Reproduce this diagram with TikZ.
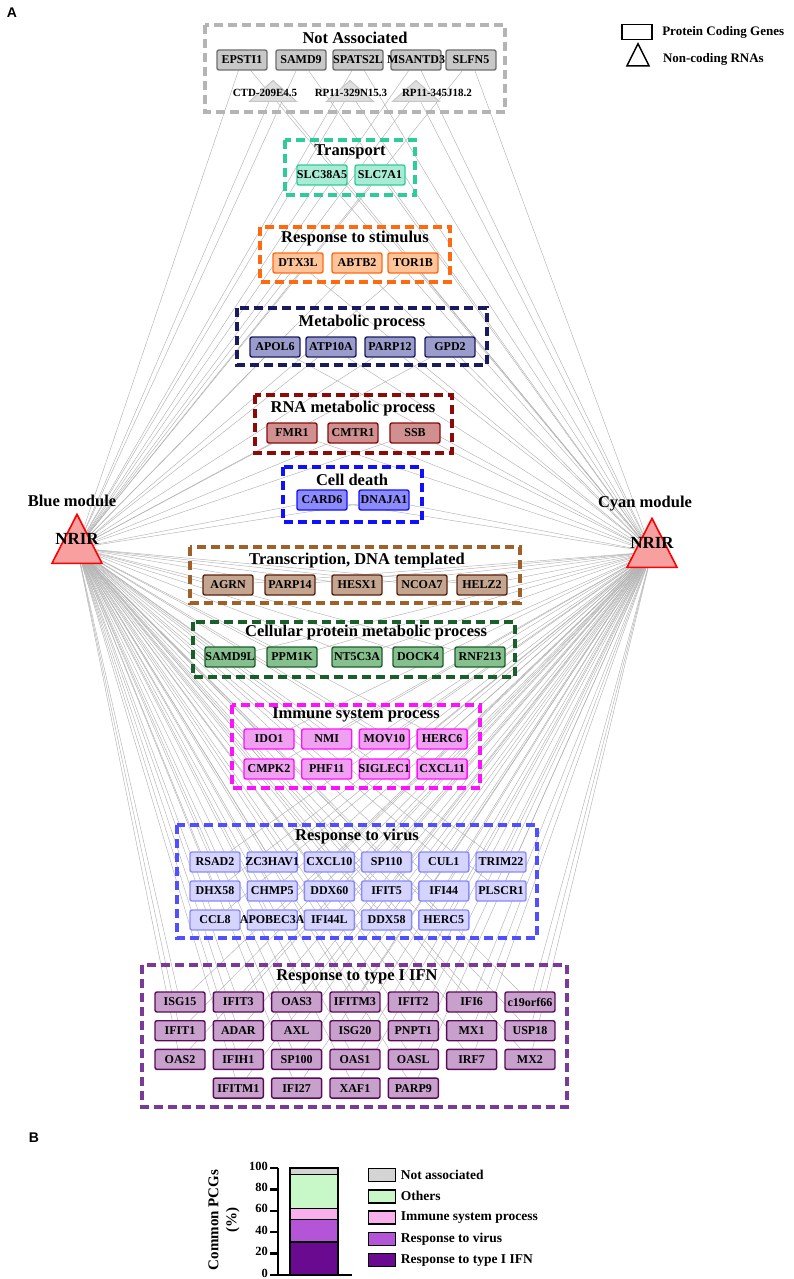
\documentclass[tikz,border=0pt]{standalone}
\usepackage{fontspec}
\setmainfont{Liberation Serif}
\newfontfamily\panelfont{Liberation Sans}
\usetikzlibrary{shapes.geometric, backgrounds}

\definecolor{naframe}{HTML}{B4B4B4}
\definecolor{nagene}{HTML}{6E6E6E}
\definecolor{nafill}{HTML}{C8C8C8}
\definecolor{trframe}{HTML}{2ECC9A}
\definecolor{trfill}{HTML}{A8ECD6}
\definecolor{stframe}{HTML}{FF6A10}
\definecolor{stfill}{HTML}{FFC49A}
\definecolor{meframe}{HTML}{1A1A5E}
\definecolor{mefill}{HTML}{9A9CCC}
\definecolor{rnframe}{HTML}{8B0A0A}
\definecolor{rnfill}{HTML}{D09090}
\definecolor{cdframe}{HTML}{1010FF}
\definecolor{cdfill}{HTML}{8C8CFF}
\definecolor{txframe}{HTML}{A0602A}
\definecolor{txgene}{HTML}{5A2010}
\definecolor{txfill}{HTML}{C4A690}
\definecolor{cpframe}{HTML}{1A5E2A}
\definecolor{cpfill}{HTML}{86C08E}
\definecolor{imframe}{HTML}{FF10FF}
\definecolor{imfill}{HTML}{F0A0F0}
\definecolor{viframe}{HTML}{5050FF}
\definecolor{vigene}{HTML}{8A8AFF}
\definecolor{vifill}{HTML}{D4D4FF}
\definecolor{ifframe}{HTML}{7A3A9A}
\definecolor{ifgene}{HTML}{5A0A5A}
\definecolor{iffill}{HTML}{C8A0CC}
\definecolor{nrirfill}{HTML}{F8A0A0}
\definecolor{nabar}{HTML}{D4D4D4}
\definecolor{othbar}{HTML}{C8F8C8}
\definecolor{immbar}{HTML}{F8B0EC}
\definecolor{virbar}{HTML}{B455D8}
\definecolor{ifnbar}{HTML}{6A0A90}

\tikzset{
  gene/.style 2 args={draw=#1, fill=#2, line width=1.4pt, rounded corners=2pt,
    minimum width=50pt, minimum height=20pt, inner sep=0pt,
    font=\fontsize{12}{12}\selectfont\bfseries},
  frame/.style={draw=#1, line width=3.5pt, dash pattern=on 9pt off 5pt},
  grouptitle/.style={font=\fontsize{16.5}{18}\selectfont\bfseries},
  link/.style={draw=gray!60, line width=0.45pt},
  nrir/.style={isosceles triangle, isosceles triangle stretches, shape border rotate=90,
    minimum width=50pt, minimum height=49pt, inner sep=0pt,
    draw=red, fill=nrirfill, line width=1.6pt},
  ncrna/.style={isosceles triangle, isosceles triangle stretches, shape border rotate=90,
    minimum width=47pt, minimum height=21pt, inner sep=0pt,
    draw=gray!45, fill=gray!25, line width=1pt},
  legtext/.style={font=\fontsize{13}{13}\selectfont\bfseries, label distance=6pt},
  barseg/.style={draw=black, line width=1.5pt},
  axis/.style={draw=black, line width=2.5pt},
}

\begin{document}
\begin{tikzpicture}[x=1pt, y=-1pt, font=\bfseries]
  \useasboundingbox (0,0) rectangle (793,1279);

  % panel A
  \node[font=\panelfont\fontsize{14}{14}\selectfont\bfseries] (labA) at (12,13) {A};
  \node[draw, line width=1.5pt, minimum width=30pt, minimum height=15pt, inner sep=0pt,
    label={[legtext]right:Protein Coding Genes}] (legpcg) at (637,32) {};
  \node[isosceles triangle, isosceles triangle stretches, shape border rotate=90,
    minimum width=22pt, minimum height=22pt, inner sep=0pt, draw, line width=1.5pt,
    label={[legtext, label distance=13pt]right:Non-coding RNAs}] (legnc) at (638,59) {};

  \node[nrir, label={[grouptitle, xshift=-5pt, label distance=2pt]above:Blue module},
    label={[font=\fontsize{17}{17}\selectfont\bfseries, yshift=9pt]center:NRIR}] (nrirL) at (77,548) {};
  \node[nrir, label={[grouptitle, xshift=-7pt, label distance=2pt]above:Cyan module},
    label={[font=\fontsize{17}{17}\selectfont\bfseries, yshift=9pt]center:NRIR}] (nrirR) at (652,552) {};

  % group frames
  \draw[frame=naframe] (205,25) rectangle (505,112);
  \draw[frame=trframe] (285,140) rectangle (415,195);
  \draw[frame=stframe] (260,227) rectangle (450,282);
  \draw[frame=meframe] (237,308) rectangle (487,365);
  \draw[frame=rnframe] (255,395) rectangle (452,453);
  \draw[frame=cdframe] (283,467) rectangle (422,522);
  \draw[frame=txframe] (190,547) rectangle (520,603);
  \draw[frame=cpframe] (193,622) rectangle (515,677);
  \draw[frame=imframe] (232,705) rectangle (480,788);
  \draw[frame=viframe] (177,825) rectangle (537,938);
  \draw[frame=ifframe] (142,965) rectangle (567,1107);

  % group titles
  \foreach \n/\t/\x/\y in {tna/Not Associated/355/38, ttr/Transport/350/152,
      tst/Response to stimulus/355/239, tme/Metabolic process/362/323,
      trn/RNA metabolic process/353/409, tcd/Cell death/352/480,
      ttx/{Transcription, DNA templated}/357/561,
      tcp/Cellular protein metabolic process/366/633,
      tim/Immune system process/356/715, tvi/Response to virus/357/837,
      tif/Response to type I IFN/357/977} {
    \node[grouptitle] (\n) at (\x,\y) {\t};
  }

  % non-coding RNAs
  \foreach \n/\x/\tx/\t in {nc1/273/265/CTD-209E4.5, nc2/350/351/RP11-329N15.3,
      nc3/416/437/RP11-345J18.2} {
    \node[ncrna] (\n) at (\x,92.5) {};
    \node[font=\fontsize{11}{11}\selectfont\bfseries] (\n txt) at (\tx,93) {\t};
    \begin{scope}[on background layer]
      \draw[link] (nrirL) -- (\n) -- (nrirR);
    \end{scope}
  }

  % protein coding genes, one row per group
  \foreach \g/\x/\y/\d/\f in {EPSTI1/242/60/nagene/nafill, SAMD9/301/60/nagene/nafill,
      SPATS2L/358/60/nagene/nafill, MSANTD3/416/60/nagene/nafill, SLFN5/471/60/nagene/nafill,
      SLC38A5/322/175/trframe/trfill, SLC7A1/380/175/trframe/trfill,
      DTX3L/298/263/stframe/stfill, ABTB2/357/263/stframe/stfill, TOR1B/413/263/stframe/stfill,
      APOL6/275/347/meframe/mefill, ATP10A/331/347/meframe/mefill,
      PARP12/390/347/meframe/mefill, GPD2/450/347/meframe/mefill,
      FMR1/292/433/rnframe/rnfill, CMTR1/353/433/rnframe/rnfill, SSB/415/433/rnframe/rnfill,
      CARD6/322/500/cdframe/cdfill, DNAJA1/384/500/cdframe/cdfill,
      AGRN/228/585/txgene/txfill, PARP14/290/585/txgene/txfill, HESX1/357/585/txgene/txfill,
      NCOA7/422/585/txgene/txfill, HELZ2/482/585/txgene/txfill,
      SAMD9L/230/657/cpframe/cpfill, PPM1K/292/657/cpframe/cpfill,
      NT5C3A/357/657/cpframe/cpfill, DOCK4/418/657/cpframe/cpfill,
      RNF213/480/657/cpframe/cpfill} {
    \node[gene={\d}{\f}] (\g) at (\x,\y) {\makebox[0pt]{\g}};
    \begin{scope}[on background layer]
      \draw[link] (nrirL) -- (\g) -- (nrirR);
    \end{scope}
  }

  % immune system process
  \foreach \g/\c/\r in {IDO1/0/0, NMI/1/0, MOV10/2/0, HERC6/3/0,
      CMPK2/0/1, PHF11/1/1, SIGLEC1/2/1, CXCL11/3/1} {
    \node[gene={imframe}{imfill}] (\g) at ({269+57.7*\c},{739+30*\r}) {\makebox[0pt]{\g}};
    \begin{scope}[on background layer]
      \draw[link] (nrirL) -- (\g) -- (nrirR);
    \end{scope}
  }

  % response to virus
  \foreach \g/\c/\r in {RSAD2/0/0, ZC3HAV1/1/0, CXCL10/2/0, SP110/3/0, CUL1/4/0, TRIM22/5/0,
      DHX58/0/1, CHMP5/1/1, DDX60/2/1, IFIT5/3/1, IFI44/4/1, PLSCR1/5/1,
      CCL8/0/2, APOBEC3A/1/2, IFI44L/2/2, DDX58/3/2, HERC5/4/2} {
    \node[gene={vigene}{vifill}] (\g) at ({215+57.2*\c},{862+29*\r}) {\makebox[0pt]{\g}};
    \begin{scope}[on background layer]
      \draw[link] (nrirL) -- (\g) -- (nrirR);
    \end{scope}
  }

  % response to type I IFN
  \foreach \g/\c/\r in {ISG15/0/0, IFIT3/1/0, OAS3/2/0, IFITM3/3/0, IFIT2/4/0, IFI6/5/0,
      c19orf66/6/0, IFIT1/0/1, ADAR/1/1, AXL/2/1, ISG20/3/1, PNPT1/4/1, MX1/5/1, USP18/6/1,
      OAS2/0/2, IFIH1/1/2, SP100/2/2, OAS1/3/2, OASL/4/2, IRF7/5/2, MX2/6/2,
      IFITM1/1/3, IFI27/2/3, XAF1/3/3, PARP9/4/3} {
    \node[gene={ifgene}{iffill}] (\g) at ({180+58.33*\c},{1002+28.7*\r}) {\makebox[0pt]{\g}};
    \begin{scope}[on background layer]
      \draw[link] (nrirL) -- (\g) -- (nrirR);
    \end{scope}
  }

  % panel B
  \node[font=\panelfont\fontsize{14}{14}\selectfont\bfseries] (labB) at (34,1138) {B};
  \node[rotate=90, align=center, font=\fontsize{15}{18}\selectfont\bfseries] (ytitle)
    at (224,1220) {Common PCGs\\(\%)};
  \foreach \lo/\hi/\c in {0/31/ifnbar, 31/52/virbar, 52/62/immbar, 62/94/othbar, 94/100/nabar} {
    \draw[barseg, fill=\c] (290,{1275-1.07*\lo}) rectangle (338,{1275-1.07*\hi});
  }
  \draw[axis] (278,1168) -- (278,1275) -- (352,1275);
  \foreach \v in {0,20,...,100} {
    \draw[axis] (278,{1275-1.07*\v}) -- (270,{1275-1.07*\v})
      node[left, inner sep=1pt, yshift=2pt, font=\fontsize{12.5}{12.5}\selectfont\bfseries] {\v};
  }
  \foreach \c/\t [count=\i from 0] in {nabar/Not associated, othbar/Others,
      immbar/Immune system process, virbar/Response to virus, ifnbar/Response to type I IFN} {
    \node[draw, line width=1.5pt, fill=\c, minimum width=27pt, minimum height=13pt,
      inner sep=0pt, label={[legtext, font=\fontsize{13.5}{13.5}\selectfont\bfseries,
      label distance=1pt]right:\t}] (leg\i) at (382,{1175+21.3*\i}) {};
  }
\end{tikzpicture}
\end{document}
